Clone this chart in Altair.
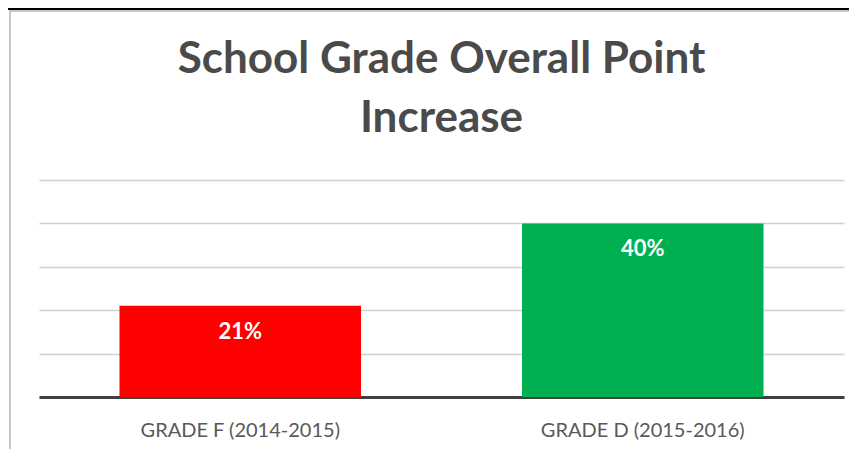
import altair as alt
import pandas as pd

categories = ["GRADE F (2014-2015)", "GRADE D (2015-2016)"]
values = [0.21, 0.40]
labels = ["21%", "40%"]
colors = ["#FF0000", "#00B050"]
grid_values = [0.1, 0.2, 0.3, 0.4, 0.5]
title_lines = ["School Grade Overall Point", "Increase"]

df = pd.DataFrame({"category": categories, "value": values, "label": labels, "color": colors})

x = alt.X("category:N", sort=categories, title=None,
          scale=alt.Scale(paddingInner=0.4, paddingOuter=0.2),
          axis=alt.Axis(labelAngle=0, ticks=False, domainColor="#404040", domainWidth=3,
                        labelFont="Lato", labelFontSize=20, labelColor="#595959",
                        labelPadding=23, labelLimit=400, grid=False))
y = alt.Y("value:Q", title=None, scale=alt.Scale(domain=[0, 0.5], nice=False),
          axis=alt.Axis(labels=False, ticks=False, domain=False, values=grid_values,
                        gridColor="#d0d0d0", gridWidth=1.5))

bars = alt.Chart(df).mark_bar().encode(x=x, y=y, color=alt.Color("color:N", scale=None))
text = alt.Chart(df).mark_text(font="Lato", fontWeight="bold", fontSize=22, color="white",
                               baseline="middle", dy=26).encode(
    x=alt.X("category:N", sort=categories), y=alt.Y("value:Q"), text="label:N")

one = alt.Data(values=[{"a": 1}])
left_border = alt.Chart(one).mark_rule(color="#c8c8c8", strokeWidth=2).encode(
    x=alt.value(-29), y=alt.value(-170), y2=alt.value(269))
top_border = alt.Chart(one).mark_rule(color="#c8c8c8", strokeWidth=2).encode(
    y=alt.value(-169), x=alt.value(-29), x2=alt.value(810))
black_line = alt.Chart(one).mark_rule(color="#000000", strokeWidth=2).encode(
    y=alt.value(-171), x=alt.value(-31), x2=alt.value(810))

chart = alt.layer(bars, text, left_border, top_border, black_line).properties(
    width=805, height=217,
    autosize=alt.AutoSizeParams(type="none"),
    padding={"left": 31, "top": 172, "right": 5, "bottom": 52},
    background="white",
    title=alt.TitleParams(title_lines, anchor="middle", font="Lato", fontSize=44,
                          fontWeight="bold", color="#4a4a4a", lineHeight=59, offset=-133),
).configure_view(stroke=None)

chart.save("out.html", embed_options={"renderer": "svg", "actions": False})
